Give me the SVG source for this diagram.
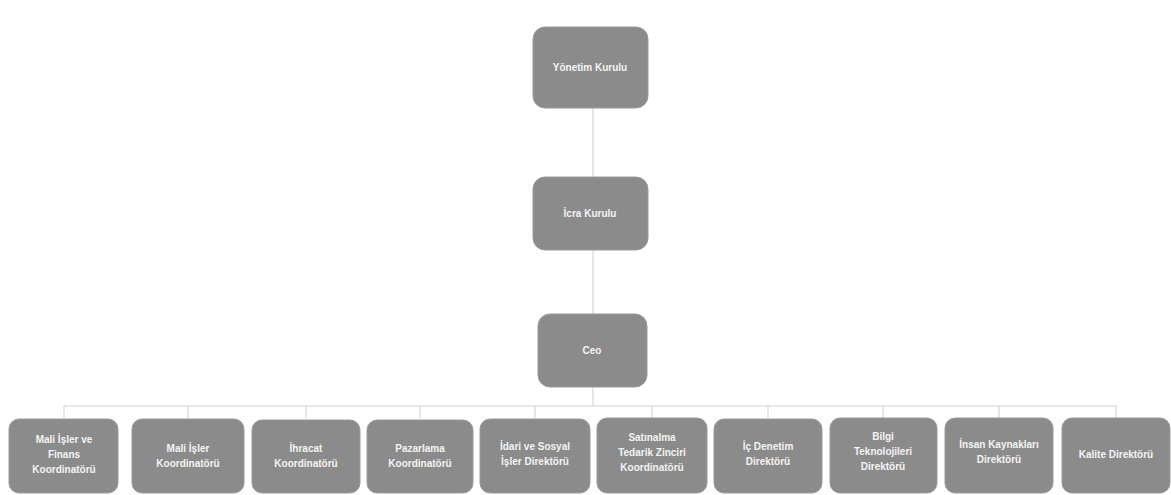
<svg xmlns="http://www.w3.org/2000/svg" width="1171" height="495" viewBox="0 0 1171 495">
<style>
.box{fill:#8b8b8b;stroke:#9a9a9a;stroke-width:1}
.t{font-family:"Liberation Sans",Arial,sans-serif;font-size:10px;fill:#f4f4f4;text-anchor:middle;font-weight:bold}
.c{stroke:#cfcfcf;stroke-width:1;fill:none}
</style>
<rect width="1171" height="495" fill="#ffffff"/>
<g id="connectors">
<line class="c" x1="593" y1="108" x2="593" y2="177"/>
<line class="c" x1="593" y1="250" x2="593" y2="314"/>
<line class="c" x1="593" y1="387" x2="593" y2="406"/>
<line class="c" x1="64" y1="406" x2="1116" y2="406"/>
<line class="c" x1="64" y1="406" x2="64" y2="418"/>
<line class="c" x1="188" y1="406" x2="188" y2="418"/>
<line class="c" x1="306" y1="406" x2="306" y2="418"/>
<line class="c" x1="420" y1="406" x2="420" y2="418"/>
<line class="c" x1="535" y1="406" x2="535" y2="418"/>
<line class="c" x1="652" y1="406" x2="652" y2="418"/>
<line class="c" x1="768" y1="406" x2="768" y2="418"/>
<line class="c" x1="883" y1="406" x2="883" y2="418"/>
<line class="c" x1="999" y1="406" x2="999" y2="418"/>
<line class="c" x1="1116" y1="406" x2="1116" y2="418"/>
</g>
<g id="yonetim"><rect class="box" x="533" y="27" width="115" height="81" rx="12"/><text class="t" x="590" y="71">Yönetim Kurulu</text></g>
<g id="icra"><rect class="box" x="533" y="177" width="115" height="73" rx="12"/><text class="t" x="590" y="217">İcra Kurulu</text></g>
<g id="ceo"><rect class="box" x="538" y="314" width="109" height="73" rx="12"/><text class="t" x="592" y="354">Ceo</text></g>
<g id="n1"><rect class="box" x="9" y="419" width="109" height="74" rx="10"/><text class="t" x="64" y="443">Mali İşler ve</text><text class="t" x="64" y="458">Finans</text><text class="t" x="64" y="473">Koordinatörü</text></g>
<g id="n2"><rect class="box" x="132" y="419" width="112" height="74" rx="10"/><text class="t" x="188" y="452">Mali İşler</text><text class="t" x="188" y="467">Koordinatörü</text></g>
<g id="n3"><rect class="box" x="252" y="420" width="108" height="73" rx="10"/><text class="t" x="306" y="452">İhracat</text><text class="t" x="306" y="467">Koordinatörü</text></g>
<g id="n4"><rect class="box" x="367" y="420" width="106" height="73" rx="10"/><text class="t" x="420" y="452">Pazarlama</text><text class="t" x="420" y="467">Koordinatörü</text></g>
<g id="n5"><rect class="box" x="480" y="419" width="110" height="74" rx="10"/><text class="t" x="535" y="450">İdari ve Sosyal</text><text class="t" x="535" y="465">İşler Direktörü</text></g>
<g id="n6"><rect class="box" x="597" y="418" width="110" height="75" rx="10"/><text class="t" x="652" y="441">Satınalma</text><text class="t" x="652" y="456">Tedarik Zinciri</text><text class="t" x="652" y="471">Koordinatörü</text></g>
<g id="n7"><rect class="box" x="714" y="419" width="108" height="74" rx="10"/><text class="t" x="768" y="450">İç Denetim</text><text class="t" x="768" y="465">Direktörü</text></g>
<g id="n8"><rect class="box" x="830" y="418" width="107" height="75" rx="10"/><text class="t" x="883" y="440">Bilgi</text><text class="t" x="883" y="455">Teknolojileri</text><text class="t" x="883" y="470">Direktörü</text></g>
<g id="n9"><rect class="box" x="945" y="418" width="108" height="75" rx="10"/><text class="t" x="999" y="448">İnsan Kaynakları</text><text class="t" x="999" y="463">Direktörü</text></g>
<g id="n10"><rect class="box" x="1062" y="418" width="108" height="75" rx="10"/><text class="t" x="1116" y="458">Kalite Direktörü</text></g>
</svg>
